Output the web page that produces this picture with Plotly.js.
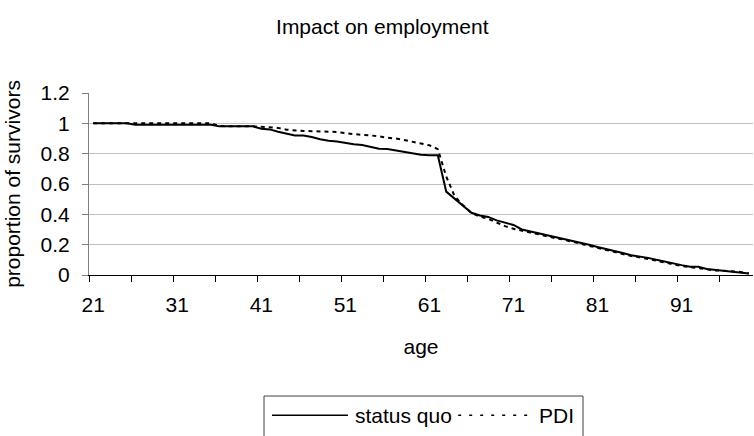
<!DOCTYPE html>
<html>
<head>
<meta charset="utf-8">
<script src="https://cdn.plot.ly/plotly-3.0.1.min.js"></script>
<style>
html,body{margin:0;padding:0;background:#fff;}
#chart{width:754px;height:436px;}
</style>
</head>
<body>
<div id="chart"></div>
<script>
var ages = [21,22,23,24,25,26,27,28,29,30,31,32,33,34,35,36,37,38,39,40,
  41,42,43,44,45,46,47,48,49,50,51,52,53,54,55,56,57,58,59,60,
  61,62,63,64,65,66,67,68,69,70,71,72,73,74,75,76,77,78,79,80,
  81,82,83,84,85,86,87,88,89,90,91,92,93,94,95,96,97,98,99];

var statusQuo = [1.00,1.00,1.00,1.00,1.00,0.99,0.99,0.99,0.99,0.99,
  0.99,0.99,0.99,0.99,0.99,0.98,0.98,0.98,0.98,0.98,
  0.965,0.96,0.945,0.93,0.92,0.92,0.91,0.895,0.885,0.88,
  0.87,0.862,0.857,0.845,0.832,0.83,0.82,0.808,0.80,0.793,
  0.79,0.79,0.55,0.505,0.455,0.41,0.392,0.383,0.36,0.345,
  0.33,0.30,0.288,0.275,0.26,0.25,0.24,0.227,0.214,0.20,
  0.185,0.17,0.157,0.145,0.13,0.122,0.113,0.10,0.087,0.075,
  0.065,0.055,0.054,0.04,0.035,0.03,0.025,0.016,0.01];

var pdi = [1.00,1.00,1.00,1.00,1.00,1.00,1.00,1.00,1.00,1.00,
  1.00,1.00,1.00,1.00,1.00,0.982,0.98,0.98,0.98,0.98,
  0.978,0.975,0.97,0.958,0.952,0.95,0.948,0.946,0.945,0.943,
  0.935,0.928,0.924,0.92,0.915,0.905,0.90,0.89,0.877,0.868,
  0.855,0.83,0.65,0.52,0.46,0.41,0.385,0.37,0.345,0.322,
  0.305,0.29,0.28,0.268,0.253,0.243,0.233,0.22,0.207,0.193,
  0.178,0.163,0.15,0.138,0.125,0.117,0.108,0.095,0.082,0.07,
  0.06,0.052,0.045,0.035,0.03,0.028,0.024,0.02,0.01];

var xTickVals = [21,31,41,51,61,71,81,91];
var xTickText = ['21','31','41','51','61','71','81','91'];
var seriesNames = ['status quo','PDI'];

var FONT = 'Liberation Sans, Arial, sans-serif';
var FS = 21;

var traces = [
  {x: ages, y: statusQuo, name: seriesNames[0], type: 'scatter', mode: 'lines',
   line: {color: '#000', width: 2}, showlegend: false, hoverinfo: 'skip'},
  {x: ages, y: pdi, name: seriesNames[1], type: 'scatter', mode: 'lines',
   line: {color: '#000', width: 2, dash: '4px,4px'}, showlegend: false, hoverinfo: 'skip'}
];

var legY = -0.77;
var layout = {
  width: 754, height: 436,
  margin: {l: 89, r: 1, t: 93, b: 161, autoexpand: false},
  paper_bgcolor: '#fff', plot_bgcolor: '#fff',
  font: {family: FONT, size: FS, color: '#000'},
  showlegend: false,
  title: {text: 'Impact on employment', font: {family: FONT, size: 21, color: '#000'},
          x: 0.507, xanchor: 'center', y: 0.938, yanchor: 'middle'},
  xaxis: {
    range: [20.5, 99.5], tickmode: 'array', tickvals: xTickVals, ticktext: xTickText,
    ticks: '', showgrid: false, zeroline: false,
    showline: true, linecolor: '#000', linewidth: 1,
    ticklabelstandoff: 11,
    minor: {ticks: 'outside', ticklen: 6, tickcolor: '#000', tickwidth: 1, tick0: 20.5, dtick: 5, showgrid: false},
    title: {text: 'age', font: {family: FONT, size: FS}, standoff: 24},
    automargin: false, fixedrange: true
  },
  yaxis: {
    range: [0, 1.2], dtick: 0.2, tick0: 0,
    ticks: 'outside', ticklen: 6, tickcolor: '#808080', tickwidth: 1,
    showline: true, linecolor: '#808080', linewidth: 1,
    showgrid: true, gridcolor: '#c0c0c0', gridwidth: 1, zeroline: false,
    ticklabelstandoff: 8,
    title: {text: 'proportion of survivors', font: {family: FONT, size: FS}, standoff: 14},
    automargin: false, fixedrange: true
  },
  shapes: [
    {type: 'rect', xref: 'paper', yref: 'paper', x0: 0.2636, x1: 0.744, y0: -1.2, y1: -0.665,
     line: {color: '#404040', width: 1}, fillcolor: 'rgba(0,0,0,0)'},
    {type: 'line', xref: 'paper', yref: 'paper', x0: 0.2756, x1: 0.390, y0: legY, y1: legY,
     line: {color: '#000', width: 1.5}},
    {type: 'line', xref: 'paper', yref: 'paper', x0: 0.556, x1: 0.669, y0: legY, y1: legY,
     line: {color: '#000', width: 1.5, dash: '3px,8px'}}
  ],
  annotations: [
    {xref: 'paper', yref: 'paper', x: 0.397, y: legY, xanchor: 'left', yanchor: 'middle',
     text: seriesNames[0], showarrow: false, font: {family: FONT, size: FS, color: '#000'}},
    {xref: 'paper', yref: 'paper', x: 0.674, y: legY, xanchor: 'left', yanchor: 'middle',
     text: seriesNames[1], showarrow: false, font: {family: FONT, size: FS, color: '#000'}}
  ]
};

Plotly.newPlot('chart', traces, layout, {staticPlot: true, displayModeBar: false});
</script>
</body>
</html>
